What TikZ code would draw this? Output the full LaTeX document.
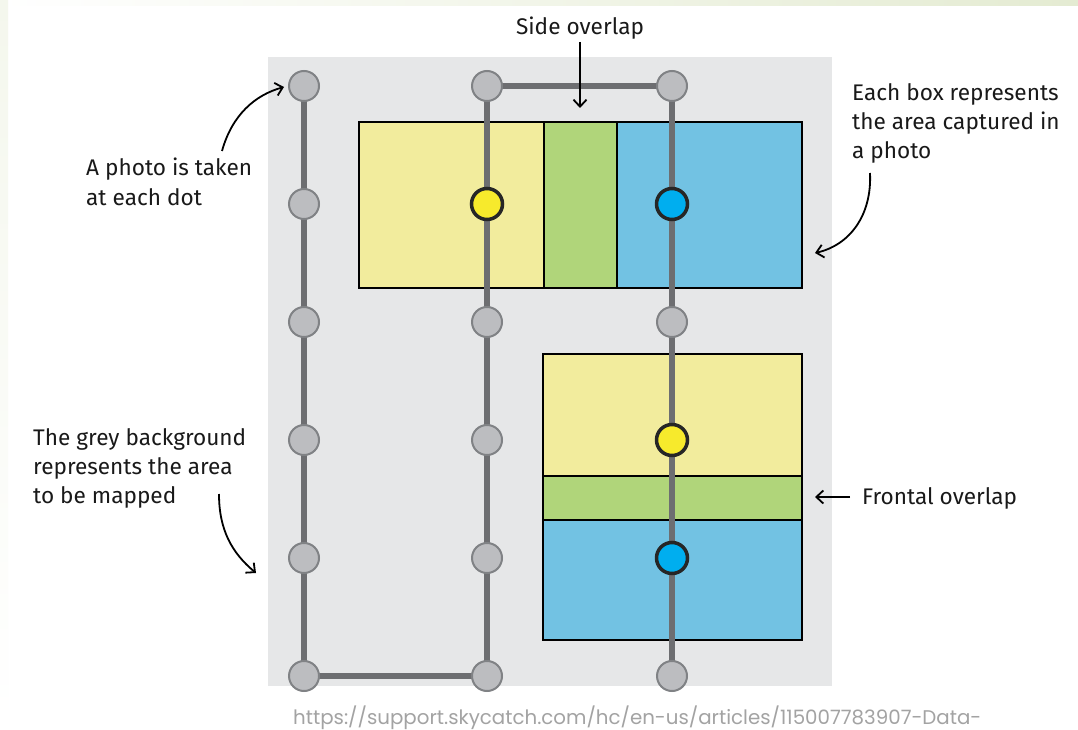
\documentclass[tikz,border=0pt]{standalone}
\usepackage{fontspec}
\setmainfont{Fira Sans}
\newfontfamily\urlfont{Poppins}
\usetikzlibrary{arrows.meta}
\definecolor{bgrey}{HTML}{E6E7E8}
\definecolor{dotfill}{HTML}{BCBDC0}
\definecolor{dotline}{HTML}{808285}
\definecolor{pathgrey}{HTML}{6D6E71}
\definecolor{boxyellow}{HTML}{F2EC9D}
\definecolor{boxgreen}{HTML}{B0D57A}
\definecolor{boxblue}{HTML}{72C2E3}
\definecolor{dotyellow}{HTML}{F7EA2C}
\definecolor{dotblue}{HTML}{00AEEF}
\definecolor{urlgrey}{HTML}{A3A3A3}
\definecolor{bandgreen}{HTML}{E4EBD2}
\tikzset{
  gdot/.style={circle, minimum size=30pt, inner sep=0pt, fill=dotfill, draw=dotline, line width=2pt},
  ydot/.style={circle, minimum size=31pt, inner sep=0pt, fill=dotyellow, draw=black!85, line width=3.5pt},
  bdot/.style={circle, minimum size=31pt, inner sep=0pt, fill=dotblue, draw=black!85, line width=3.5pt},
  route/.style={line width=6pt, draw=pathgrey},
  photobox/.style={draw=black, line width=2pt},
  label/.style={font=\fontsize{22.6}{29}\selectfont, align=left, inner sep=0pt, text=black!90},
  callout/.style={line width=1.8pt, -{Straight Barb[length=7pt,width=13pt,line width=1.8pt]}},
}
\begin{document}
\begin{tikzpicture}[x=1pt,y=-1pt]
\useasboundingbox (0,0) rectangle (1078,730);
\clip (0,0) rectangle (1078,730);
\fill[white] (0,0) rectangle (1078,730);
\shade[left color=white, right color=bandgreen] (0,0) rectangle (1078,6);
\shade[top color=bandgreen!40, bottom color=white] (0,0) rectangle (8,730);
% grey area
\fill[bgrey] (268,57) rectangle (832,686);
% photo boxes
\filldraw[photobox, fill=boxyellow] (359,122) rectangle (544,288);
\filldraw[photobox, fill=boxblue] (617,122) rectangle (802,288);
\filldraw[photobox, fill=boxgreen] (544,122) rectangle (617,288);
\filldraw[photobox, fill=boxyellow] (543,354) rectangle (802,476);
\filldraw[photobox, fill=boxblue] (543,520) rectangle (802,640);
\filldraw[photobox, fill=boxgreen] (543,476) rectangle (802,520);
% dots
\foreach \c/\x in {a/304,b/487,c/672}{
  \foreach \r/\y in {1/86,2/204,3/322,4/440,5/558,6/676}{
    \coordinate (\c\r) at (\x,\y);
  }
}
% route
\draw[route] (a1) -- (a6) -- (b6) -- (b1) -- (c1) -- (c6);
\foreach \n in {a1,a2,a3,a4,a5,a6,b1,b3,b4,b5,b6,c1,c3,c6}{
  \node[gdot] (d\n) at (\n) {};
}
\node[ydot] (db2) at (b2) {};
\node[bdot] (dc2) at (c2) {};
\node[ydot] (dc4) at (c4) {};
\node[bdot] (dc5) at (c5) {};
% labels (base = baseline of the last line)
\node[label, anchor=base] (side) at (580,35) {Side overlap};
\node[label, anchor=base west] (eachbox) at (852,159) {Each box represents\\the area captured in\\a photo};
\node[label, anchor=base west] (photo) at (86,205) {A photo is taken\\at each dot};
\node[label, anchor=base west] (grey) at (33,503) {The grey background\\represents the area\\to be mapped};
\node[label, anchor=base west] (frontal) at (862,504) {Frontal overlap};
% arrows
\coordinate (sidestart) at (580,42);
\coordinate (sideend) at (580,108);
\draw[callout] (sidestart) -- (sideend);
\coordinate (photostart) at (222,151);
\coordinate (photoend) at (284,87);
\draw[callout] (photostart) .. controls (232,115) and (255,95) .. (photoend);
\coordinate (eachstart) at (870,173);
\coordinate (eachend) at (815,253);
\draw[callout] (eachstart) .. controls (872,215) and (850,245) .. (eachend);
\coordinate (greystart) at (219,494);
\coordinate (greyend) at (256,573);
\draw[callout] (greystart) .. controls (219,530) and (232,553) .. (greyend);
\coordinate (frontstart) at (850,497);
\coordinate (frontend) at (815,497);
\draw[callout] (frontstart) -- (frontend);
% source url
\node[anchor=base west, inner sep=0pt, text=urlgrey, font=\urlfont\fontsize{19.8}{22}\selectfont] (url) at (293,724) {https://support.skycatch.com/hc/en-us/articles/115007783907-Data-};
\end{tikzpicture}
\end{document}
